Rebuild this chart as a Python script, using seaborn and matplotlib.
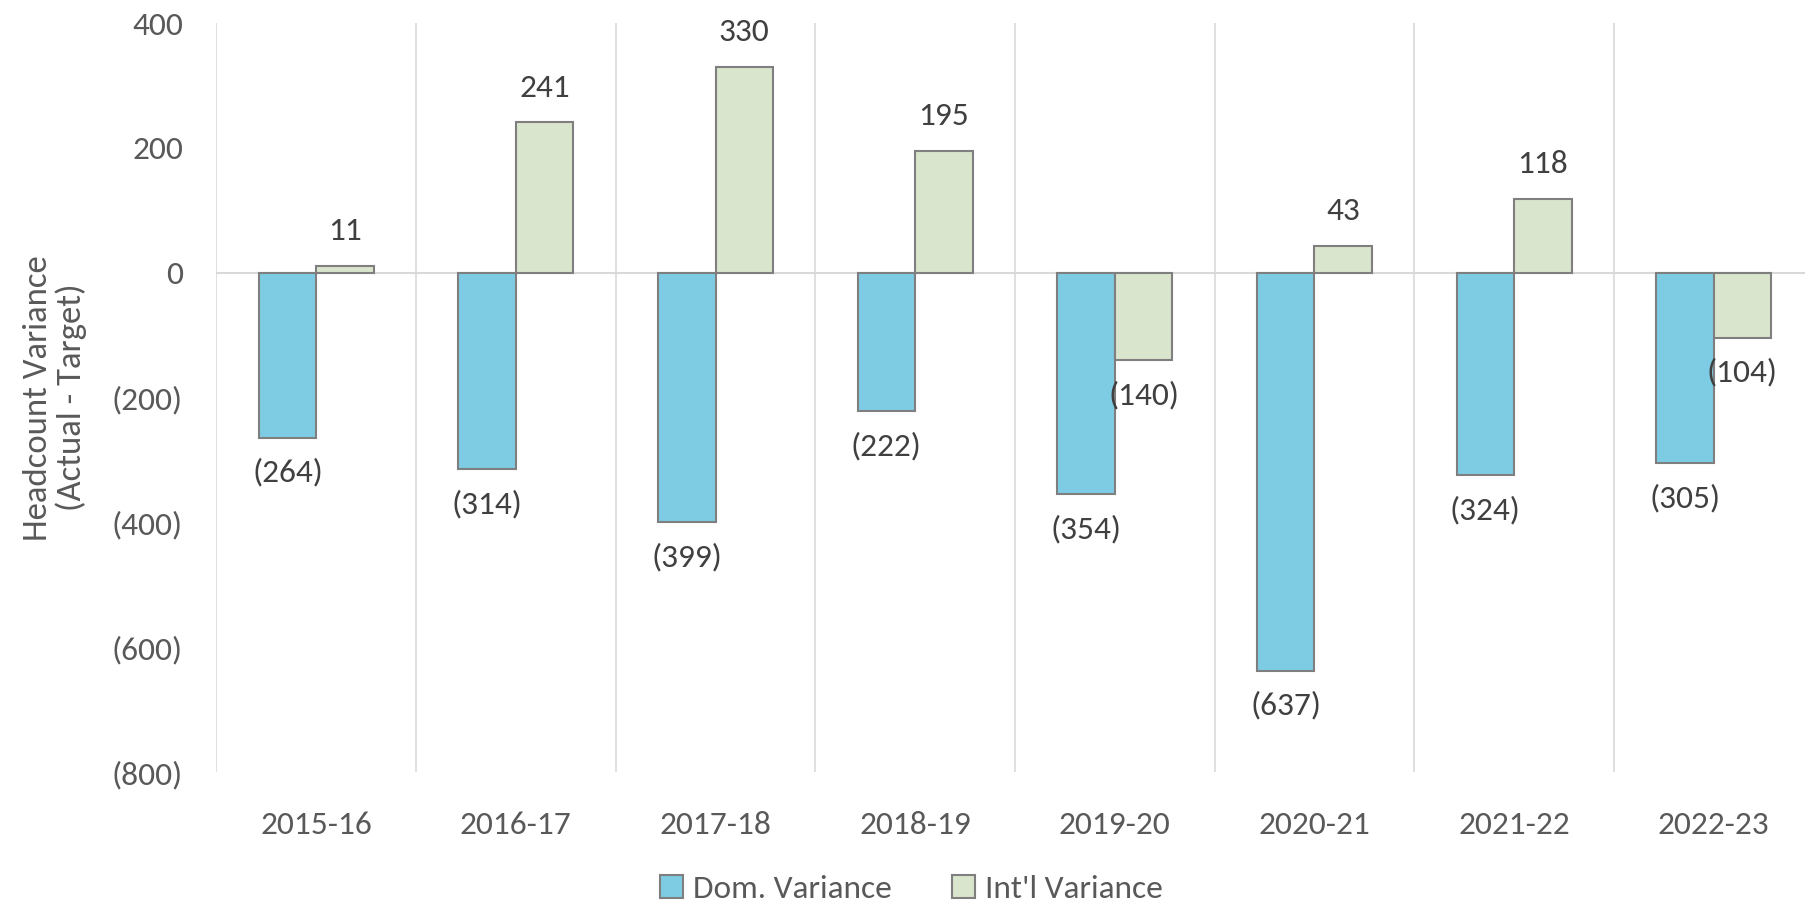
import pandas as pd
import seaborn as sns
import matplotlib.pyplot as plt
from matplotlib.patches import Patch

years = ["2015-16", "2016-17", "2017-18", "2018-19", "2019-20", "2020-21", "2021-22", "2022-23"]
dom_variance = [-264, -314, -399, -222, -354, -637, -324, -305]
intl_variance = [11, 241, 330, 195, -140, 43, 118, -104]
series = ["Dom. Variance", "Int'l Variance"]
y_ticks = [400, 200, 0, -200, -400, -600, -800]

df = pd.DataFrame({
    "year": years * 2,
    "series": [series[0]] * len(years) + [series[1]] * len(years),
    "value": dom_variance + intl_variance,
})

def fmt(v):
    return f"({abs(v):,.0f})" if v < 0 else f"{v:,.0f}"

sns.set_style("white")
plt.rcParams["font.family"] = ["Carlito", "Lato", "DejaVu Sans"]

colors = {"Dom. Variance": "#7ECCE4", "Int'l Variance": "#DAE5CD"}
fs = 24

fig = plt.figure(figsize=(18.05, 9.07), dpi=100)
ax = fig.add_axes([0.1199, 0.1484, 0.8848, 0.8262])

sns.barplot(data=df, x="year", y="value", hue="series", palette=colors,
            saturation=1, width=0.576, gap=0, edgecolor="#7F7F7F", linewidth=1.5,
            legend=False, ax=ax, zorder=3)

ax.set_ylim(-800, 400)
ax.set_xlim(-0.5, len(years) - 0.5)
ax.set_yticks(y_ticks)
ax.set_yticklabels([fmt(v) for v in y_ticks])
for s in ax.spines.values():
    s.set_visible(False)

ax.axhline(0, color="#D9D9D9", lw=1.5, zorder=2)
for i in range(len(years)):
    ax.axvline(i - 0.5, color="#D9D9D9", lw=1.2, zorder=1)

ax.tick_params(axis="both", length=0, labelsize=fs, labelcolor="#595959")
ax.tick_params(axis="x", pad=28)
ax.tick_params(axis="y", pad=24)
ax.set_xlabel("")
ax.set_ylabel("Headcount Variance\n(Actual - Target)", fontsize=25, color="#595959",
              labelpad=18, linespacing=1.1)

for cont in ax.containers:
    for bar in cont:
        v = bar.get_height()
        x = bar.get_x() + bar.get_width() / 2
        off = 25 if v >= 0 else -25
        ax.annotate(fmt(v), (x, v), xytext=(0, off), textcoords="offset points",
                    ha="center", va="center", fontsize=fs, color="#404040")

handles = [Patch(facecolor=colors[s], edgecolor="#7F7F7F", linewidth=1.5, label=s) for s in series]
fig.legend(handles=handles, loc="center", bbox_to_anchor=(0.505, 0.02), ncol=2,
           frameon=False, fontsize=fs, handlelength=0.7, handleheight=0.7,
           handletextpad=0.3, columnspacing=1.8, labelcolor="#595959")

fig.savefig("out.png", dpi=100)
